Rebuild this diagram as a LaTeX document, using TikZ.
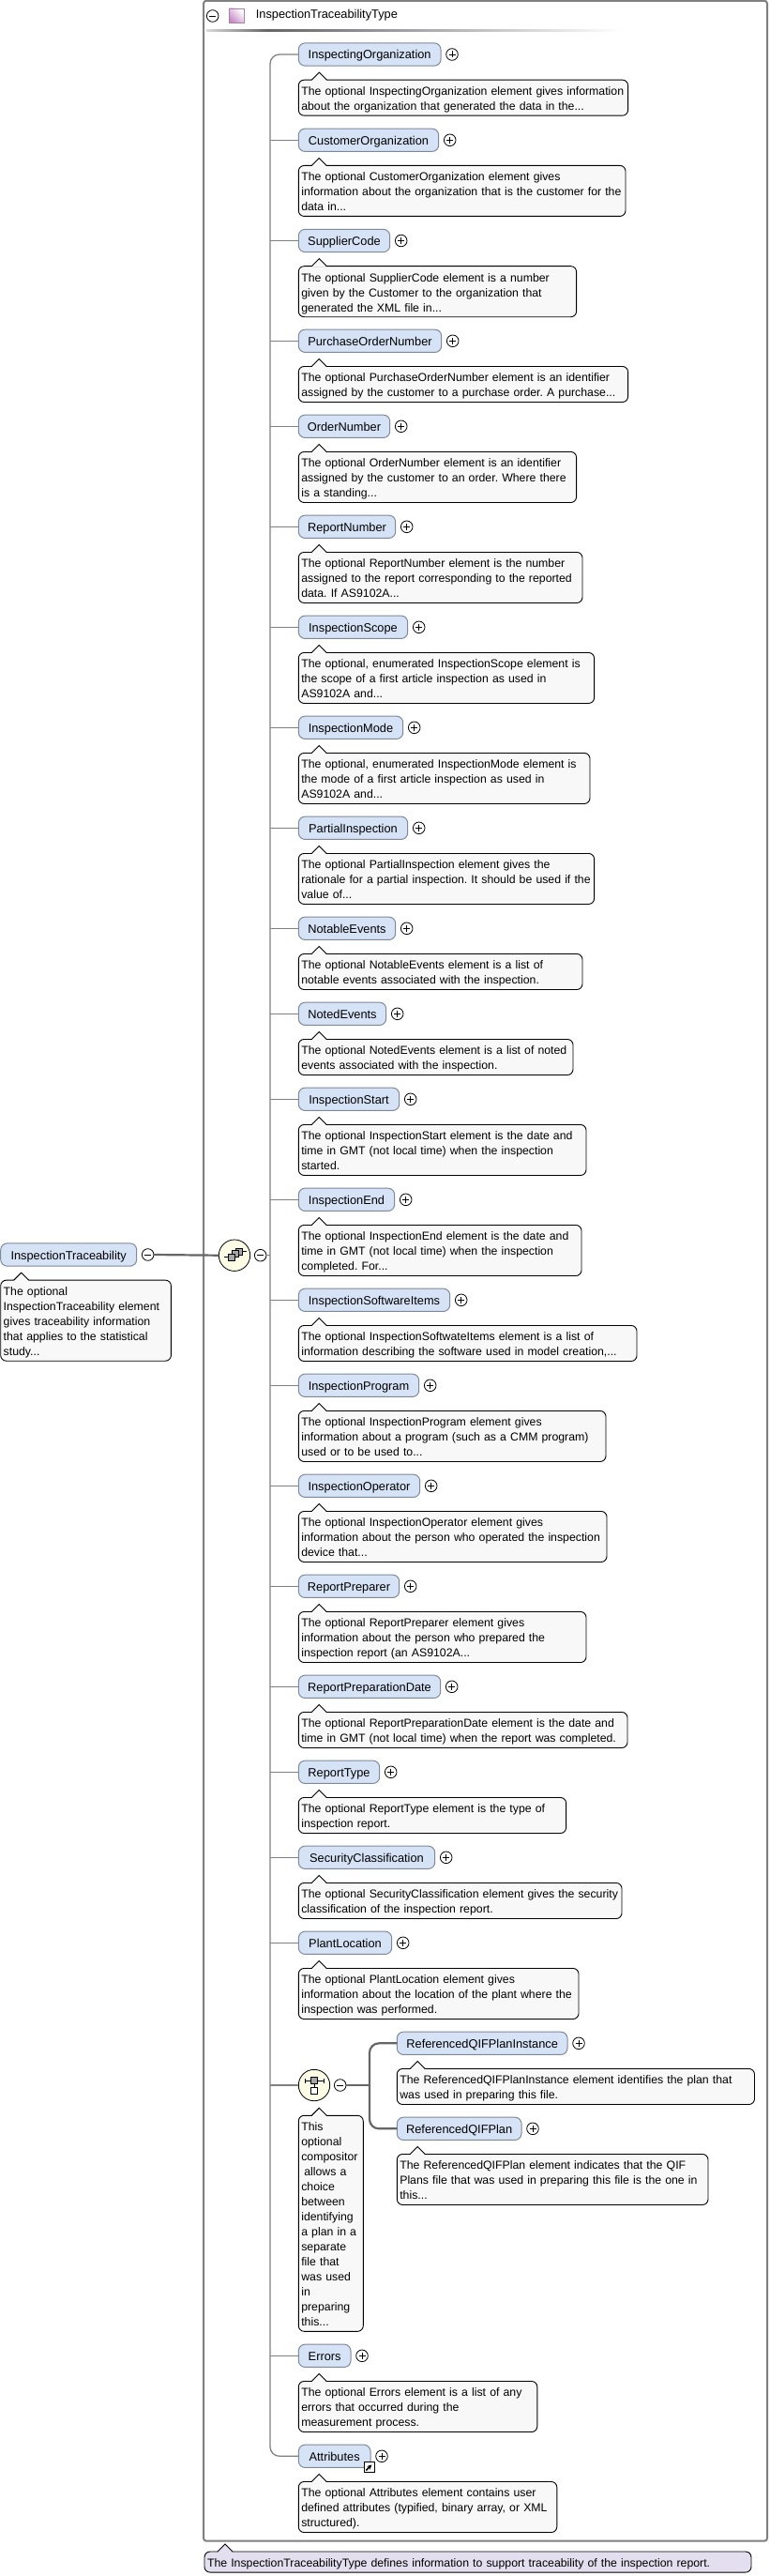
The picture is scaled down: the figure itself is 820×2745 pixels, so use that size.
\documentclass[tikz,border=0pt]{standalone}
\usepackage{fontspec}
\setmainfont{Liberation Sans}
\usepackage{xcolor}
\usepackage{tikz}
\usetikzlibrary{arrows.meta,calc,positioning}

\definecolor{elemfill}{HTML}{D6E3F6}
\definecolor{elemline}{HTML}{7F8A99}
\definecolor{notefill}{HTML}{F8F8F8}
\definecolor{typefill}{HTML}{E3DFEE}
\definecolor{compfill}{HTML}{FDFDE6}

\begin{document}
\begin{tikzpicture}[
  x=1pt, y=-1pt,
  font=\fontsize{12.8}{16}\selectfont,
  elem/.style={draw=elemline, line width=1pt, fill=elemfill, rounded corners=7pt, minimum width=#1, minimum height=24.3pt, inner sep=0pt, outer sep=0pt, anchor=west, text height=12pt, text depth=2pt},
  doc/.style 2 args={draw=black, line width=0.9pt, fill=#2, rounded corners=6pt, text width=#1, inner xsep=3pt, inner ysep=3pt, outer sep=0pt, font=\fontsize{12.3}{16}\selectfont,
    execute at begin node={\parindent=0pt\frenchspacing\rightskip=-60pt plus 1fil\parfillskip=0pt plus 1fil\rule{0pt}{13.5pt}},
    execute at end node={\rule[-2.5pt]{0pt}{2.5pt}}},
  note/.style={doc={#1}{notefill}},
  sign/.style={circle, draw=black, fill=white, line width=0.8pt, minimum size=12.6pt, inner sep=0pt, outer sep=0pt},
  minus/.style={sign, path picture={\draw[line width=0.8pt] ($(path picture bounding box.center)+(-3.5,0)$) -- ($(path picture bounding box.center)+(3.5,0)$);}},
  plus/.style={sign, path picture={\draw[line width=0.8pt] ($(path picture bounding box.center)+(-3.5,0)$) -- ($(path picture bounding box.center)+(3.5,0)$) ($(path picture bounding box.center)+(0,-3.5)$) -- ($(path picture bounding box.center)+(0,3.5)$);}},
  comp/.style={circle, draw=black, fill=compfill, line width=0.8pt, minimum size=33.4pt, inner sep=0pt, outer sep=0pt},
  branch/.style={draw=black!50, line width=1.3pt},
  heavy/.style={draw=black!60, line width=2.2pt},
  tipfill/.style={fill=#1, draw=none},
  tipline/.style={draw=black, line width=0.9pt, fill=none},
  piece/.style={draw=black, fill=black!35, line width=0.7pt},
]
\useasboundingbox (0,0) rectangle (820,2745);

%% ---- Type frame and heading ----
\draw[draw=black!50, line width=2pt, rounded corners=3pt] (217,0.8) rectangle (818,2707.7);
\node[minus] (typesign) at (226.7,17) {};
\node[draw=black!35!violet!50, left color=white, right color=violet!45, shading angle=-45, minimum size=15.5pt, inner sep=0pt] (typeicon) at (252,16.5) {};
\node[anchor=west, inner sep=0pt] (typename) at (272.7,16.5) {InspectionTraceabilityType};
\shade[left color=black!15, right color=black!60] (220,32) rectangle (285,34);
\shade[left color=black!60, right color=white] (285,32) rectangle (665,34);

%% ---- Root element ----
\node[elem=145pt] (root) at (0.7,1337) {InspectionTraceability};
\node[minus, right=5.7pt of root] (rootsign) {};
\node[note=175.7pt, below right=15pt and 0pt of root.south west] (rootdoc) {The optional\\InspectionTraceability element\\gives traceability information\\that applies to the statistical\\study...};
\node[comp] (seq) at (250,1337.7) {};
\node[minus, right=4.7pt of seq] (seqsign) {};
\coordinate (trunk) at (288,0);

%% ---- Child elements ----
\node[elem=151.7pt] (e1) at (318.3,58) {InspectingOrganization};
\node[plus, right=5.7pt of e1] (p1) {};
\node[note=345.3pt, below right=15pt and 0pt of e1.south west] (d1) {The optional InspectingOrganization element gives information\\about the organization that generated the data in the...};

\node[elem=149.4pt] (e2) at (318.3,149.3) {CustomerOrganization};
\node[plus, right=5.7pt of e2] (p2) {};
\node[note=342.7pt, below right=15pt and 0pt of e2.south west] (d2) {The optional CustomerOrganization element gives\\information about the organization that is the customer for the\\data in...};

\node[elem=97.4pt] (e3) at (318.3,256.5) {SupplierCode};
\node[plus, right=5.7pt of e3] (p3) {};
\node[note=290.3pt, below right=15pt and 0pt of e3.south west] (d3) {The optional SupplierCode element is a number\\given by the Customer to the organization that\\generated the XML file in...};

\node[elem=152.4pt] (e4) at (318.3,363.3) {PurchaseOrderNumber};
\node[plus, right=5.7pt of e4] (p4) {};
\node[note=345.3pt, below right=15pt and 0pt of e4.south west] (d4) {The optional PurchaseOrderNumber element is an identifier\\assigned by the customer to a purchase order. A purchase...};

\node[elem=97.4pt] (e5) at (318.3,454.3) {OrderNumber};
\node[plus, right=5.7pt of e5] (p5) {};
\node[note=290.3pt, below right=15pt and 0pt of e5.south west] (d5) {The optional OrderNumber element is an identifier\\assigned by the customer to an order. Where there\\is a standing...};

\node[elem=103.4pt] (e6) at (318.3,561.3) {ReportNumber};
\node[plus, right=5.7pt of e6] (p6) {};
\node[note=296.7pt, below right=15pt and 0pt of e6.south west] (d6) {The optional ReportNumber element is the number\\assigned to the report corresponding to the reported\\data. If AS9102A...};

\node[elem=116.4pt] (e7) at (318.3,668.3) {InspectionScope};
\node[plus, right=5.7pt of e7] (p7) {};
\node[note=309.3pt, below right=15pt and 0pt of e7.south west] (d7) {The optional, enumerated InspectionScope element is\\the scope of a first article inspection as used in\\AS9102A and...};

\node[elem=111.4pt] (e8) at (318.3,775.3) {InspectionMode};
\node[plus, right=5.7pt of e8] (p8) {};
\node[note=304.7pt, below right=15pt and 0pt of e8.south west] (d8) {The optional, enumerated InspectionMode element is\\the mode of a first article inspection as used in\\AS9102A and...};

\node[elem=116.4pt] (e9) at (318.3,882.3) {PartialInspection};
\node[plus, right=5.7pt of e9] (p9) {};
\node[note=309.3pt, below right=15pt and 0pt of e9.south west] (d9) {The optional PartialInspection element gives the\\rationale for a partial inspection. It should be used if the\\value of...};

\node[elem=103.4pt] (e10) at (318.3,989.3) {NotableEvents};
\node[plus, right=5.7pt of e10] (p10) {};
\node[note=296.7pt, below right=15pt and 0pt of e10.south west] (d10) {The optional NotableEvents element is a list of\\notable events associated with the inspection.};

\node[elem=93.4pt] (e11) at (318.3,1080.3) {NotedEvents};
\node[plus, right=5.7pt of e11] (p11) {};
\node[note=286.7pt, below right=15pt and 0pt of e11.south west] (d11) {The optional NotedEvents element is a list of noted\\events associated with the inspection.};

\node[elem=107.4pt] (e12) at (318.3,1171.3) {InspectionStart};
\node[plus, right=5.7pt of e12] (p12) {};
\node[note=300.7pt, below right=15pt and 0pt of e12.south west] (d12) {The optional InspectionStart element is the date and\\time in GMT (not local time) when the inspection\\started.};

\node[elem=102.4pt] (e13) at (318.3,1278.3) {InspectionEnd};
\node[plus, right=5.7pt of e13] (p13) {};
\node[note=295.7pt, below right=15pt and 0pt of e13.south west] (d13) {The optional InspectionEnd element is the date and\\time in GMT (not local time) when the inspection\\completed. For...};

\node[elem=161.4pt] (e14) at (318.3,1385.3) {InspectionSoftwareItems};
\node[plus, right=5.7pt of e14] (p14) {};
\node[note=354.7pt, below right=15pt and 0pt of e14.south west] (d14) {The optional InspectionSoftwateItems element is a list of\\information describing the software used in model creation,...};

\node[elem=128.4pt] (e15) at (318.3,1476.3) {InspectionProgram};
\node[plus, right=5.7pt of e15] (p15) {};
\node[note=321.7pt, below right=15pt and 0pt of e15.south west] (d15) {The optional InspectionProgram element gives\\information about a program (such as a CMM program)\\used or to be used to...};

\node[elem=129.4pt] (e16) at (318.3,1583.3) {InspectionOperator};
\node[plus, right=5.7pt of e16] (p16) {};
\node[note=322.7pt, below right=15pt and 0pt of e16.south west] (d16) {The optional InspectionOperator element gives\\information about the person who operated the inspection\\device that...};

\node[elem=107.4pt] (e17) at (318.3,1690.3) {ReportPreparer};
\node[plus, right=5.7pt of e17] (p17) {};
\node[note=300.7pt, below right=15pt and 0pt of e17.south west] (d17) {The optional ReportPreparer element gives\\information about the person who prepared the\\inspection report (an AS9102A...};

\node[elem=151.4pt] (e18) at (318.3,1797.3) {ReportPreparationDate};
\node[plus, right=5.7pt of e18] (p18) {};
\node[note=344.7pt, below right=15pt and 0pt of e18.south west] (d18) {The optional ReportPreparationDate element is the date and\\time in GMT (not local time) when the report was completed.};

\node[elem=86.4pt] (e19) at (318.3,1888.3) {ReportType};
\node[plus, right=5.7pt of e19] (p19) {};
\node[note=279.3pt, below right=15pt and 0pt of e19.south west] (d19) {The optional ReportType element is the type of\\inspection report.};

\node[elem=145.4pt] (e20) at (318.3,1979.3) {SecurityClassification};
\node[plus, right=5.7pt of e20] (p20) {};
\node[note=338.7pt, below right=15pt and 0pt of e20.south west] (d20) {The optional SecurityClassification element gives the security\\classification of the inspection report.};

\node[elem=99.4pt] (e21) at (318.3,2070.3) {PlantLocation};
\node[plus, right=5.7pt of e21] (p21) {};
\node[note=292.7pt, below right=15pt and 0pt of e21.south west] (d21) {The optional PlantLocation element gives\\information about the location of the plant where the\\inspection was performed.};

%% ---- Choice between plan references ----
\node[comp] (choice) at (335,2222) {};
\node[minus, right=4.7pt of choice] (choicesign) {};
\node[note=63pt, below right=15.6pt and 0pt of choice.south -| e21.west] (choicedoc) {This\\optional\\compositor\\\hspace*{3pt}allows a\\choice\\between\\identifying\\a plan in a\\separate\\file that\\was used\\in\\preparing\\this...};
\coordinate (fork) at (394,0);

\node[elem=181.7pt] (q1) at (423.3,2177.3) {ReferencedQIFPlanInstance};
\node[plus, right=5.7pt of q1] (pq1) {};
\node[note=375.2pt, below right=15pt and 0pt of q1.south west] (dq1) {The ReferencedQIFPlanInstance element identifies the plan that\\was used in preparing this file.};

\node[elem=132.7pt] (q2) at (423.3,2268.3) {ReferencedQIFPlan};
\node[plus, right=5.7pt of q2] (pq2) {};
\node[note=325.7pt, below right=15pt and 0pt of q2.south west] (dq2) {The ReferencedQIFPlan element indicates that the QIF\\Plans file that was used in preparing this file is the one in\\this...};

%% ---- Last two children ----
\node[elem=55.7pt] (e22) at (318.3,2510.3) {Errors};
\node[plus, right=5.7pt of e22] (p22) {};
\node[note=248.5pt, below right=15pt and 0pt of e22.south west] (d22) {The optional Errors element is a list of any\\errors that occurred during the\\measurement process.};

\node[elem=76.7pt] (e23) at (318.3,2617.3) {Attributes};
\node[plus, right=5.7pt of e23] (p23) {};
\node[note=269.5pt, below right=15pt and 0pt of e23.south west] (d23) {The optional Attributes element contains user\\defined attributes (typified, binary array, or XML\\structured).};
\node[draw=black, fill=white, line width=0.8pt, minimum size=11pt, inner sep=0pt] (reflink) at (393.7,2629) {};
\draw[-{Stealth[length=5pt,width=5pt]}, line width=1.5pt] (reflink.south west) ++(2.5,-2.5) -- ++(6,-6);

%% ---- Type description ----
\node[doc={577pt}{typefill}, anchor=north west] (typedoc) at (218,2719) {The InspectionTraceabilityType defines information to support traceability of the inspection report.};

%% ---- Connectors ----
\draw[heavy] (rootsign.east) -- (seq.west);
\draw[branch] (seqsign.east) -- (seqsign.east -| trunk);
\draw[branch, rounded corners=10pt] (e1.west) -- (e1.west -| trunk) -- (e23.west -| trunk) -- (e23.west);
\foreach \n in {e2,e3,e4,e5,e6,e7,e8,e9,e10,e11,e12,e13,e14,e15,e16,e17,e18,e19,e20,e21,e22}
  \draw[branch] (\n.west -| trunk) -- (\n.west);
\draw[branch] (choice.west -| trunk) -- (choice.west);
\draw[heavy] (choicesign.east) -- (choicesign.east -| fork);
\draw[heavy, rounded corners=10pt] (q1.west) -- (q1.west -| fork) -- (q2.west -| fork) -- (q2.west);

%% ---- Pointers of the description boxes ----
\foreach \n in {rootdoc,d1,d2,d3,d4,d5,d6,d7,d8,d9,d10,d11,d12,d13,d14,d15,d16,d17,d18,d19,d20,d21,choicedoc,dq1,dq2,d22,d23} {
  \fill[tipfill=notefill] ($(\n.north west)+(14,0.8)$) -- ($(\n.north west)+(22,-8)$) -- ($(\n.north west)+(30,0.8)$) -- cycle;
  \draw[tipline] ($(\n.north west)+(14,0)$) -- ($(\n.north west)+(22,-8)$) -- ($(\n.north west)+(30,0)$);
}
\fill[tipfill=typefill] ($(typedoc.north west)+(14,0.8)$) -- ($(typedoc.north west)+(22,-8)$) -- ($(typedoc.north west)+(30,0.8)$) -- cycle;
\draw[tipline] ($(typedoc.north west)+(14,0)$) -- ($(typedoc.north west)+(22,-8)$) -- ($(typedoc.north west)+(30,0)$);

%% ---- Compositor icons ----
\begin{scope}[shift={(seq.center)}]
  \draw[line width=0.8pt] (-11.5,2) -- (-3,2);
  \draw[line width=0.8pt] (4.5,-4) -- (13,-4);
  \draw[piece] (1,-7.5) rectangle (8,-0.5);
  \draw[piece] (-2.5,-5) rectangle (4.5,2);
  \draw[piece] (-6.5,-1.5) rectangle (0.5,5.5);
\end{scope}
\begin{scope}[shift={(choice.center)}]
  \draw[line width=0.8pt] (-10,-4.7) -- (10,-4.7);
  \draw[line width=0.8pt] (-10,-7) -- (-10,-2.4);
  \draw[line width=0.8pt] (10,-7) -- (10,-2.4);
  \draw[line width=0.8pt] (0,-4.7) -- (0,2.5);
  \draw[piece] (-3.5,-8.2) rectangle (3.5,-1.2);
  \draw[piece, fill=white] (-3.5,2.5) rectangle (3.5,9.5);
\end{scope}

\end{tikzpicture}
\end{document}
